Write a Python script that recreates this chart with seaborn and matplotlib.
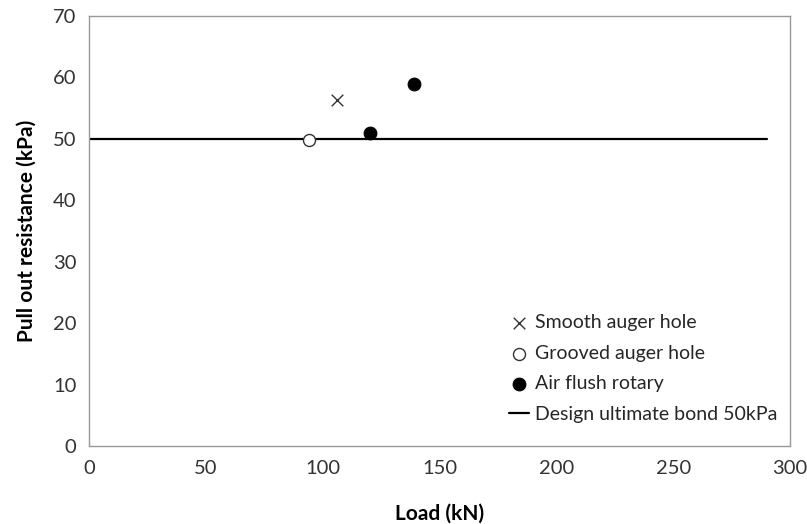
import matplotlib
matplotlib.use("Agg")
import matplotlib.pyplot as plt
import seaborn as sns
import pandas as pd

smooth_load = [106.0]
smooth_res = [56.3]
grooved_load = [94.0]
grooved_res = [49.8]
air_load = [120.3, 139.1]
air_res = [51.0, 58.9]
design_load = [0, 290]
design_res = [50, 50]
xticks = [0, 50, 100, 150, 200, 250, 300]
yticks = [0, 10, 20, 30, 40, 50, 60, 70]

sns.set_theme(style="white")
plt.rcParams['font.family'] = ['Lato', 'DejaVu Sans']

fig = plt.figure(figsize=(8.07, 5.24), dpi=100)
ax = fig.add_axes([0.1103, 0.1489, 0.8687, 0.8206])

sns.lineplot(x=design_load, y=design_res, ax=ax, color='black', linewidth=1.6,
             label='Design ultimate bond 50kPa', zorder=1)
sns.scatterplot(x=smooth_load, y=smooth_res, ax=ax, marker='x', s=70, color='#333333',
                linewidth=1.0, label='Smooth auger hole', zorder=3)
sns.scatterplot(x=grooved_load, y=grooved_res, ax=ax, marker='o', s=75, facecolor='white',
                edgecolor='#333333', linewidth=1.0, label='Grooved auger hole', zorder=3)
sns.scatterplot(x=air_load, y=air_res, ax=ax, marker='o', s=85, color='black',
                edgecolor='black', label='Air flush rotary', zorder=3)

ax.set_xlim(0, 300)
ax.set_ylim(0, 70)
ax.set_xticks(xticks)
ax.set_yticks(yticks)
ax.tick_params(axis='both', length=0, labelsize=14.5, colors='#333333')
ax.tick_params(axis='x', pad=10)
ax.tick_params(axis='y', pad=9)
for s in ax.spines.values():
    s.set_color('#999999')
    s.set_linewidth(1.0)

ax.set_xlabel('Load (kN)', fontsize=15, fontweight='bold', color='black', labelpad=19)
ax.set_ylabel('Pull out resistance (kPa)', fontsize=15, fontweight='bold', color='black', labelpad=12)

handles, labels = ax.get_legend_handles_labels()
order = ['Smooth auger hole', 'Grooved auger hole', 'Air flush rotary', 'Design ultimate bond 50kPa']
hmap = dict(zip(labels, handles))
ax.legend([hmap[o] for o in order], order, loc='lower right', bbox_to_anchor=(1.002, 0.022),
          frameon=False, fontsize=14, handlelength=1.0, handletextpad=0.35, labelspacing=0.7,
          borderaxespad=0.3)

fig.savefig('out.png', dpi=100)
